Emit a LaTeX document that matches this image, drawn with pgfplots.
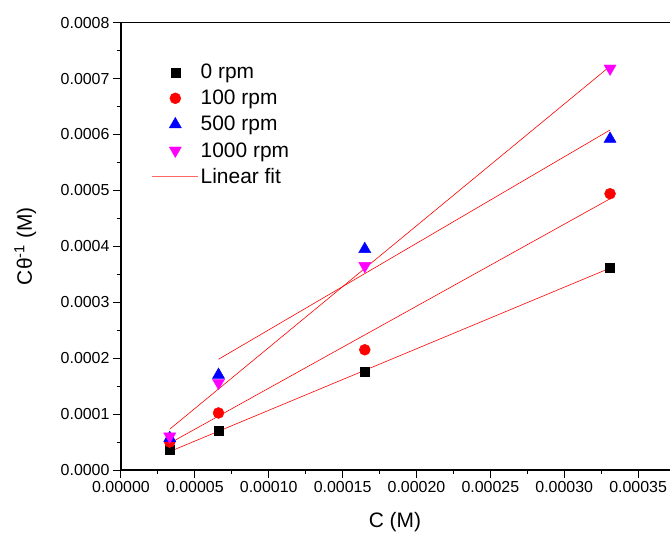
\documentclass[border=0pt]{standalone}
\usepackage{fontspec}
\setmainfont{Liberation Sans}
\usepackage{pgfplots}
\pgfplotsset{compat=1.18}
\definecolor{mag}{RGB}{255,0,255}
\definecolor{rd}{RGB}{255,0,0}
\definecolor{bl}{RGB}{0,0,255}
\pgfplotsset{
  markleg/.style={legend image code/.code={%
    \draw[mark repeat=2, mark phase=2, ##1] plot coordinates {(0bp,0bp) (23bp,0bp) (46bp,0bp)};}},
  lineleg/.style={legend image code/.code={\draw[##1] (0bp,0bp) -- (46bp,0bp);}},
}

\begin{document}
\begin{tikzpicture}
\begin{axis}[
  name=ax,
  scale only axis,
  width=591bp, height=447.4bp,
  xmin=0, xmax=0.0004,
  ymin=0, ymax=0.0008,
  xtick={0,0.00005,...,0.00035},
  ytick={0,0.0001,...,0.0008},
  minor x tick num=1, minor y tick num=1,
  xtick pos=left, ytick pos=left,
  tick align=outside,
  major tick length=8bp, minor tick length=4bp,
  axis line style={line width=1.2pt},
  every tick/.style={black, line width=1pt},
  scaled ticks=false,
  /pgf/number format/assume math mode=true,
  xticklabel style={/pgf/number format/.cd, fixed, fixed zerofill, precision=5},
  yticklabel style={/pgf/number format/.cd, fixed, fixed zerofill, precision=4},
  tick label style={font=\fontsize{16}{18}\selectfont},
  xlabel={C (M)},
  ylabel={Cθ\textsuperscript{-1} (M)},
  label style={font=\fontsize{21}{24}\selectfont},
  xlabel style={at={(axis description cs:0.4636,-0.116)}, anchor=center},
  ylabel style={at={(axis description cs:-0.162,0.5)}, anchor=center},
  legend style={draw=none, fill=none, inner sep=0pt,
    at={(axis description cs:0.052,0.912)},
    anchor=north west, font=\fontsize{21}{24}\selectfont,
    row sep=6bp},
  legend cell align=left,
]
\coordinate (bl) at (rel axis cs:0,0);

% linear fits
\addplot[rd, line width=0.6pt, forget plot] coordinates {(0.000033,0.000033) (0.000331,0.000361)};
\addplot[rd, line width=0.6pt, forget plot] coordinates {(0.000033,0.000048) (0.000331,0.000485)};
\addplot[rd, line width=0.6pt, forget plot] coordinates {(0.000066,0.000198) (0.000331,0.000608)};
\addplot[rd, line width=0.6pt, forget plot] coordinates {(0.000033,0.000073) (0.000331,0.000722)};

% data
\addplot[only marks, markleg, mark=square*, mark size=4.5bp, black, mark options={fill=black}]
  coordinates {(0.000033,0.000036) (0.000066,0.000070) (0.000165,0.000175) (0.000331,0.000362)};
\addplot[only marks, markleg, mark=*, mark size=5.5bp, rd, mark options={fill=rd}]
  coordinates {(0.000033,0.000050) (0.000066,0.000102) (0.000165,0.000215) (0.000331,0.000494)};
\addplot[only marks, markleg, mark=triangle*, mark size=7bp, bl, mark options={fill=bl}]
  coordinates {(0.000033,0.000057) (0.000066,0.000170) (0.000165,0.000395) (0.000331,0.000592)};
\addplot[only marks, markleg, mark=triangle*, mark size=7bp, mag, mark options={fill=mag, rotate=180}]
  coordinates {(0.000033,0.000060) (0.000066,0.000156) (0.000165,0.000365) (0.000331,0.000718)};
\addlegendimage{rd!60, line width=0.8pt, lineleg}
\legend{0 rpm, 100 rpm, 500 rpm, 1000 rpm, Linear fit}
\end{axis}
\pgfresetboundingbox
\useasboundingbox ([shift={(-121bp,-65bp)}]bl) rectangle ([shift={(549bp,470bp)}]bl);
\end{tikzpicture}
\end{document}
